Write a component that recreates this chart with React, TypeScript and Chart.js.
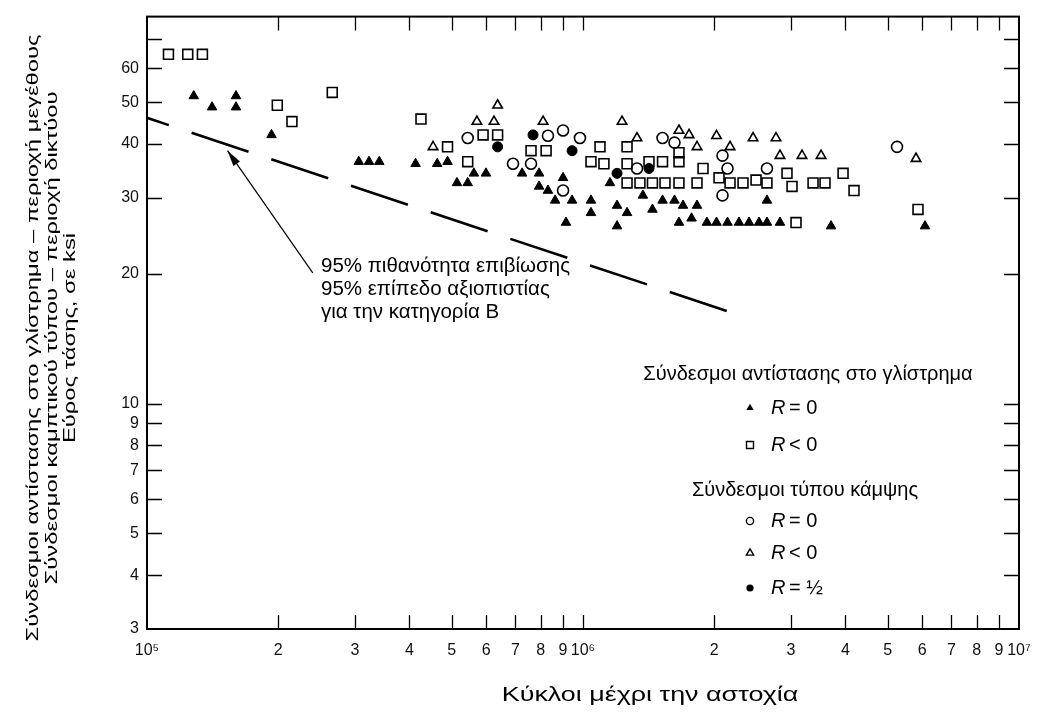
import React, { useEffect, useRef } from "react";
import { Chart, registerables } from "chart.js";

Chart.register(...registerables);

// ---------- axis ticks ----------
const X_TICKS = [1e5, 2e5, 3e5, 4e5, 5e5, 6e5, 7e5, 8e5, 9e5, 1e6, 2e6, 3e6, 4e6, 5e6, 6e6, 7e6, 8e6, 9e6, 1e7];
const X_TICK_LABELS = ["10⁵", "2", "3", "4", "5", "6", "7", "8", "9", "10⁶", "2", "3", "4", "5", "6", "7", "8", "9", "10⁷"];
const Y_TICKS = [3, 4, 5, 6, 7, 8, 9, 10, 20, 30, 40, 50, 60, 70];
const Y_TICK_LABELS = ["3", "4", "5", "6", "7", "8", "9", "10", "20", "30", "40", "50", "60", ""];

// ---------- data ----------
// Slip-resistant joints, R = 0 (filled triangles)
const SLIP_R0_X = [1.28e5, 1.41e5, 1.6e5, 1.6e5, 1.93e5, 3.06e5, 3.23e5, 3.41e5, 4.13e5, 4.63e5, 4.89e5, 5.62e5, 5.99e5, 5.14e5, 5.44e5, 7.25e5, 7.93e5, 9.0e5, 7.93e5, 8.31e5, 8.63e5, 9.44e5, 1.043e6, 1.043e6, 9.14e5, 1.153e6, 1.197e6, 1.262e6, 1.197e6, 1.372e6, 1.443e6, 1.522e6, 1.621e6, 1.696e6, 1.66e6, 1.774e6, 1.826e6, 1.924e6, 2.024e6, 2.145e6, 2.279e6, 2.403e6, 2.534e6, 2.642e6, 2.83e6, 2.642e6, 3.706e6, 6.087e6];
const SLIP_R0_Y = [51.7, 48.7, 51.7, 48.7, 42.0, 36.4, 36.4, 36.4, 36.0, 36.0, 36.4, 34.2, 34.2, 32.5, 32.5, 34.2, 34.2, 33.4, 31.9, 31.2, 29.6, 29.6, 29.6, 27.7, 26.3, 32.5, 28.8, 27.7, 25.8, 30.4, 28.2, 29.6, 29.6, 28.8, 26.3, 26.9, 28.8, 26.3, 26.3, 26.3, 26.3, 26.3, 26.3, 26.3, 26.3, 29.6, 25.8, 25.8];

// Slip-resistant joints, R < 0 (open squares)
const SLIP_RN_X = [1.12e5, 1.24e5, 1.34e5, 1.99e5, 2.15e5, 2.66e5, 4.25e5, 4.89e5, 5.9e5, 6.37e5, 5.44e5, 7.6e5, 8.23e5, 1.094e6, 1.262e6, 1.043e6, 1.117e6, 1.262e6, 1.417e6, 1.522e6, 1.66e6, 1.66e6, 1.262e6, 1.351e6, 1.443e6, 1.542e6, 1.66e6, 1.826e6, 1.885e6, 2.051e6, 2.174e6, 2.328e6, 2.494e6, 2.642e6, 2.937e6, 3.016e6, 3.37e6, 3.59e6, 3.949e6, 4.184e6, 5.866e6, 3.08e6];
const SLIP_RN_Y = [64.6, 64.6, 64.6, 49.2, 45.1, 52.7, 45.7, 39.4, 42.0, 42.0, 36.4, 38.6, 38.6, 39.4, 39.4, 36.4, 36.0, 36.0, 36.4, 36.4, 36.4, 38.2, 32.5, 32.5, 32.5, 32.5, 32.5, 32.5, 35.1, 33.4, 32.5, 32.5, 33.0, 32.5, 34.2, 31.9, 32.5, 32.5, 34.2, 31.2, 28.2, 26.3];

// Bending-type joints, R = 0 (open circles)
const BEND_R0_X = [5.44e5, 8.31e5, 9.0e5, 9.84e5, 6.91e5, 7.6e5, 1.33e6, 9.0e5, 1.522e6, 1.621e6, 2.089e6, 2.145e6, 2.642e6, 2.089e6, 5.251e6];
const BEND_R0_Y = [41.3, 41.8, 43.0, 41.3, 36.0, 36.0, 35.1, 31.2, 41.3, 40.3, 37.6, 35.1, 35.1, 30.4, 39.4];

// Bending-type joints, R < 0 (open triangles)
const BEND_RN_X = [4.53e5, 6.37e5, 5.71e5, 6.25e5, 8.1e5, 1.229e6, 1.33e6, 1.66e6, 1.751e6, 1.826e6, 2.024e6, 2.174e6, 2.455e6, 2.771e6, 2.83e6, 3.179e6, 3.516e6, 5.805e6];
const BEND_RN_Y = [39.4, 49.2, 45.1, 45.1, 45.1, 45.1, 41.3, 43.0, 42.0, 39.4, 41.8, 39.4, 41.3, 41.3, 37.6, 37.6, 37.6, 37.0];

// Bending-type joints, R = 1/2 (filled circles)
const BEND_RH_X = [6.37e5, 7.68e5, 9.44e5, 1.197e6, 1.417e6];
const BEND_RH_Y = [39.4, 42.0, 38.6, 34.2, 35.1];

// 95% survival design line (category B)
const LINE_X = [1e5, 2.3e6];
const LINE_Y = [46.0, 16.0];

// annotation arrow (from text to line)
const ARROW_X = [2.4e5, 1.53e5];
const ARROW_Y = [20.1, 38.6];

const Y_TITLE = [
  "Σύνδεσμοι αντίστασης στο γλίστρημα – περιοχή μεγέθους",
  "Σύνδεσμοι καμπτικού τύπου – περιοχή δικτύου",
  "Εύρος τάσης, σε ksi",
];
const X_TITLE = "Κύκλοι μέχρι την αστοχία";
const NOTE = ["95% πιθανότητα επιβίωσης", "95% επίπεδο αξιοπιστίας", "για την κατηγορία B"];
const LEG_HEAD_1 = "Σύνδεσμοι αντίστασης στο γλίστρημα";
const LEG_HEAD_2 = "Σύνδεσμοι τύπου κάμψης";
const LEG_ITEMS = [
  { head: false, marker: "tri", rel: "= 0" },
  { head: false, marker: "sq", rel: "< 0" },
  { head: true, marker: "", rel: "" },
  { head: false, marker: "circ", rel: "= 0" },
  { head: false, marker: "otri", rel: "< 0" },
  { head: false, marker: "dot", rel: "= ½" },
];

const FONT = '"Liberation Sans", Arial, Helvetica, sans-serif';

const zip = (xs: number[], ys: number[]) => xs.map((x, i) => ({ x, y: ys[i] }));

function drawMarker(ctx: CanvasRenderingContext2D, kind: string, x: number, y: number) {
  ctx.save();
  ctx.lineWidth = 1.4;
  ctx.strokeStyle = "#000";
  ctx.fillStyle = "#000";
  ctx.beginPath();
  if (kind === "tri" || kind === "otri") {
    const r = 4.2;
    ctx.moveTo(x, y - r);
    ctx.lineTo(x + r * 0.87, y + r * 0.5);
    ctx.lineTo(x - r * 0.87, y + r * 0.5);
    ctx.closePath();
    kind === "tri" ? ctx.fill() : ctx.stroke();
  } else if (kind === "sq") {
    ctx.rect(x - 3.5, y - 3.5, 7, 7);
    ctx.stroke();
  } else {
    ctx.arc(x, y, 3.6, 0, Math.PI * 2);
    kind === "dot" ? ctx.fill() : ctx.stroke();
  }
  ctx.restore();
}

const overlay = {
  id: "overlay",
  afterDraw(chart: any) {
    const { ctx, chartArea: a } = chart;
    const xs = chart.scales.x;
    const ys = chart.scales.y;
    ctx.save();
    // frame
    ctx.strokeStyle = "#000";
    ctx.lineWidth = 2;
    ctx.strokeRect(a.left, a.top, a.right - a.left, a.bottom - a.top);
    // inward ticks on all four sides
    ctx.lineWidth = 1.3;
    ctx.beginPath();
    X_TICKS.forEach((v) => {
      if (v === 1e5 || v === 1e7) return;
      const px = Math.round(xs.getPixelForValue(v)) + 0.5;
      ctx.moveTo(px, a.bottom);
      ctx.lineTo(px, a.bottom - 14);
      ctx.moveTo(px, a.top);
      ctx.lineTo(px, a.top + 14);
    });
    Y_TICKS.forEach((v) => {
      if (v === 3) return;
      const py = Math.round(ys.getPixelForValue(v)) + 0.5;
      ctx.moveTo(a.left, py);
      ctx.lineTo(a.left + 15, py);
      ctx.moveTo(a.right, py);
      ctx.lineTo(a.right - 15, py);
    });
    ctx.stroke();

    // arrow head
    const x0 = xs.getPixelForValue(ARROW_X[0]);
    const y0 = ys.getPixelForValue(ARROW_Y[0]);
    const x1 = xs.getPixelForValue(ARROW_X[1]);
    const y1 = ys.getPixelForValue(ARROW_Y[1]);
    const ang = Math.atan2(y1 - y0, x1 - x0);
    ctx.fillStyle = "#000";
    ctx.beginPath();
    ctx.moveTo(x1, y1);
    ctx.lineTo(x1 - 16 * Math.cos(ang) + 4 * Math.sin(ang), y1 - 16 * Math.sin(ang) - 4 * Math.cos(ang));
    ctx.lineTo(x1 - 16 * Math.cos(ang) - 4 * Math.sin(ang), y1 - 16 * Math.sin(ang) + 4 * Math.cos(ang));
    ctx.closePath();
    ctx.fill();

    // y title (rotated, three lines, wide lettering)
    ctx.fillStyle = "#000";
    ctx.font = `17px ${FONT}`;
    ctx.textAlign = "center";
    ctx.textBaseline = "middle";
    const ycx = [25, 44, 62];
    Y_TITLE.forEach((t, i) => {
      ctx.save();
      ctx.translate(ycx[i], 330);
      ctx.rotate(-Math.PI / 2);
      ctx.scale(1.4, 1);
      ctx.fillText(t, 0, 0);
      ctx.restore();
    });

    // x title (wide lettering)
    ctx.save();
    ctx.font = `21px ${FONT}`;
    ctx.translate(642, 687);
    ctx.scale(1.28, 1);
    ctx.fillText(X_TITLE, 0, 0);
    ctx.restore();

    // note
    ctx.textAlign = "left";
    ctx.font = `20.5px ${FONT}`;
    NOTE.forEach((t, i) => ctx.fillText(t, 313, 258 + i * 23));

    // legend
    ctx.font = `20px ${FONT}`;
    ctx.textAlign = "center";
    ctx.fillText(LEG_HEAD_1, 800, 366);
    const rowY = [400, 437, 482, 513, 545, 580];
    LEG_ITEMS.forEach((it, i) => {
      const y = rowY[i];
      if (it.head) {
        ctx.font = `20px ${FONT}`;
        ctx.textAlign = "center";
        ctx.fillText(LEG_HEAD_2, 797, y);
        return;
      }
      drawMarker(ctx, it.marker, 742, y);
      ctx.textAlign = "left";
      ctx.font = `italic 20px ${FONT}`;
      ctx.fillText("R", 763, y);
      ctx.font = `20px ${FONT}`;
      ctx.fillText(it.rel, 781, y);
    });
    ctx.restore();
  },
};

export default function App() {
  const ref = useRef<HTMLCanvasElement | null>(null);
  useEffect(() => {
    if (!ref.current) return;
    const chart = new Chart(ref.current, {
      type: "scatter",
      data: {
        datasets: [
          {
            label: "line",
            type: "line",
            data: zip(LINE_X, LINE_Y),
            borderColor: "#000",
            borderWidth: 2.6,
            borderDash: [60, 24],
            borderDashOffset: 37,
            pointRadius: 0,
            fill: false,
          } as any,
          {
            label: "arrow",
            type: "line",
            data: zip(ARROW_X, ARROW_Y),
            borderColor: "#000",
            borderWidth: 1.2,
            pointRadius: 0,
            fill: false,
          } as any,
          {
            label: "slip R=0",
            data: zip(SLIP_R0_X, SLIP_R0_Y),
            pointStyle: "triangle",
            pointRadius: 5.5,
            backgroundColor: "#000",
            borderColor: "#000",
            borderWidth: 1,
          },
          {
            label: "slip R<0",
            data: zip(SLIP_RN_X, SLIP_RN_Y),
            pointStyle: "rect",
            pointRadius: 7,
            backgroundColor: "rgba(255,255,255,0)",
            borderColor: "#000",
            borderWidth: 1.6,
          },
          {
            label: "bend R=0",
            data: zip(BEND_R0_X, BEND_R0_Y),
            pointStyle: "circle",
            pointRadius: 5.5,
            backgroundColor: "rgba(255,255,255,0)",
            borderColor: "#000",
            borderWidth: 1.6,
          },
          {
            label: "bend R<0",
            data: zip(BEND_RN_X, BEND_RN_Y),
            pointStyle: "triangle",
            pointRadius: 5.5,
            backgroundColor: "rgba(255,255,255,0)",
            borderColor: "#000",
            borderWidth: 1.6,
          },
          {
            label: "bend R=1/2",
            data: zip(BEND_RH_X, BEND_RH_Y),
            pointStyle: "circle",
            pointRadius: 5,
            backgroundColor: "#000",
            borderColor: "#000",
            borderWidth: 1,
          },
        ],
      },
      options: {
        animation: false,
        responsive: true,
        maintainAspectRatio: false,
        layout: { padding: { top: 2, right: 17, left: 0, bottom: 0 } },
        plugins: { legend: { display: false }, tooltip: { enabled: false }, title: { display: false } },
        scales: {
          x: {
            type: "logarithmic",
            min: 1e5,
            max: 1e7,
            grid: { display: false, drawTicks: false },
            border: { display: false },
            afterBuildTicks: (s: any) => {
              s.ticks = X_TICKS.map((v) => ({ value: v }));
            },
            afterFit: (s: any) => {
              s.height = 80;
              s.paddingLeft = 0;
              s.paddingRight = 0;
            },
            ticks: {
              autoSkip: false,
              maxRotation: 0,
              padding: 12,
              color: "#111",
              font: { size: 16, family: FONT },
              callback: (v: any) => {
                const i = X_TICKS.indexOf(Number(v));
                return i >= 0 ? X_TICK_LABELS[i] : "";
              },
            },
          },
          y: {
            type: "logarithmic",
            min: 3,
            max: 79,
            grid: { display: false, drawTicks: false },
            border: { display: false },
            afterBuildTicks: (s: any) => {
              s.ticks = Y_TICKS.map((v) => ({ value: v }));
            },
            afterFit: (s: any) => {
              s.width = 139;
              s.paddingTop = 0;
              s.paddingBottom = 0;
            },
            ticks: {
              autoSkip: false,
              padding: 8,
              color: "#111",
              font: { size: 16, family: FONT },
              callback: (v: any) => {
                const i = Y_TICKS.indexOf(Number(v));
                return i >= 0 ? Y_TICK_LABELS[i] : "";
              },
            },
          },
        },
      },
      plugins: [overlay],
    });
    return () => chart.destroy();
  }, []);
  return (
    <div style={{ width: 1028, height: 701, position: "relative" }}>
      <canvas ref={ref} />
    </div>
  );
}
